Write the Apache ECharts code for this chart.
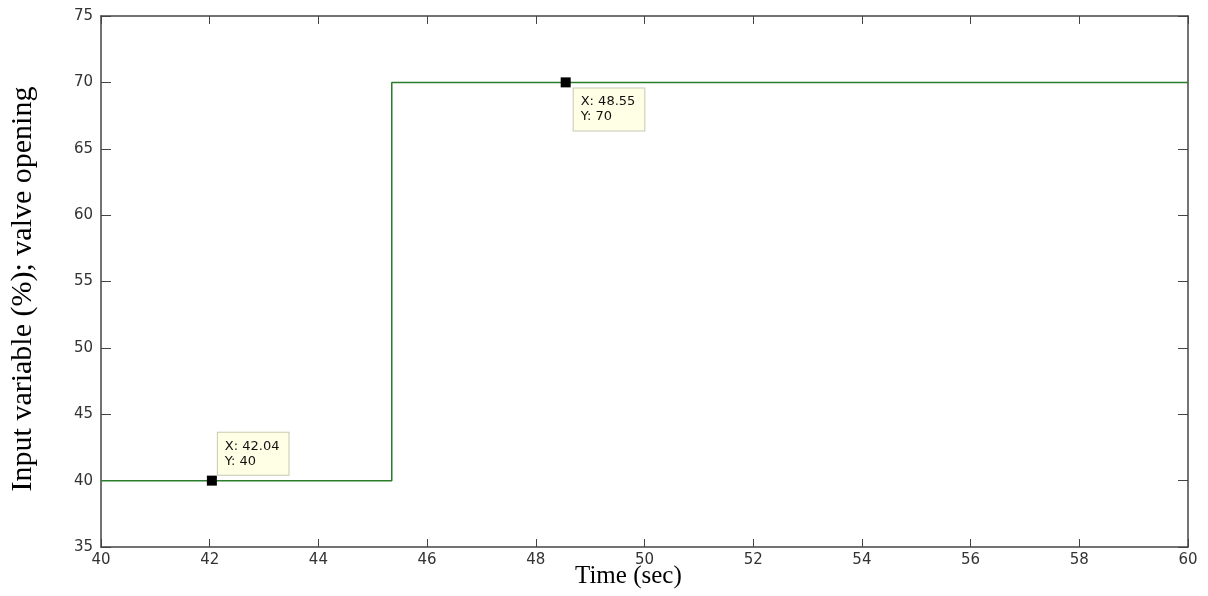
<!DOCTYPE html>
<html><head><meta charset="utf-8">
<script src="https://cdn.jsdelivr.net/npm/echarts@6/dist/echarts.min.js"></script>
<style>html,body{margin:0;padding:0;background:#fff}#c{width:1208px;height:596px}</style>
</head><body><div id="c"></div>
<script>
const times = [40, 45.35, 45.35, 60];
const values = [40, 40, 70, 70];
const tipX = [42.04, 48.55];
const tipY = [40, 70];
const xTitle = 'Time (sec)';
const yTitle = 'Input variable (%); valve opening';

const chart = echarts.init(document.getElementById('c'), null, {renderer: 'canvas'});
const axisLine = {show: true, lineStyle: {color: '#444', width: 1.5}};
const tickFont = {color: '#333', fontFamily: 'DejaVu Sans', fontSize: 15};
const lineData = times.map((t, i) => [t, values[i]]);
const tipOffsets = [[11, -43], [13, 11]];
const tipData = tipX.map((x, i) => ({value: [x, tipY[i]], label: {position: tipOffsets[i]}}));

chart.setOption({
  animation: false,
  grid: {left: 101, right: 20, top: 16, bottom: 49, containLabel: false},
  xAxis: [
    {type: 'value', min: 40, max: 60, interval: 2, position: 'bottom',
     axisLine: axisLine, axisTick: {show: true, inside: true, length: 8, lineStyle: {color: '#444'}},
     axisLabel: Object.assign({margin: 6}, tickFont), splitLine: {show: false}},
    {type: 'value', min: 40, max: 60, interval: 2, position: 'top',
     axisLine: axisLine, axisTick: {show: true, inside: true, length: 8, lineStyle: {color: '#444'}},
     axisLabel: {show: false}, splitLine: {show: false}}
  ],
  yAxis: [
    {type: 'value', min: 35, max: 75, interval: 5, position: 'left',
     axisLine: axisLine, axisTick: {show: true, inside: true, length: 10, lineStyle: {color: '#444'}},
     axisLabel: Object.assign({margin: 8}, tickFont), splitLine: {show: false}},
    {type: 'value', min: 35, max: 75, interval: 5, position: 'right',
     axisLine: axisLine, axisTick: {show: true, inside: true, length: 10, lineStyle: {color: '#444'}},
     axisLabel: {show: false}, splitLine: {show: false}}
  ],
  graphic: [
    {type: 'text', left: 575, top: 564,
     style: {text: xTitle, font: '25px "Liberation Serif"', fill: '#000'}},
    {type: 'text', x: 23, y: 289, rotation: Math.PI / 2,
     style: {text: yTitle, font: '30px "Liberation Serif"', fill: '#000', textAlign: 'center', textVerticalAlign: 'middle'}}
  ],
  series: [
    {type: 'line', data: lineData, symbol: 'none', lineStyle: {color: '#2a7d2a', width: 1.5}, z: 2},
    {type: 'scatter', data: tipData, symbol: 'rect', symbolSize: 10,
     itemStyle: {color: '#000', opacity: 1}, z: 5,
     label: {show: true,
       formatter: function(p){return 'X: ' + p.value[0] + '\nY: ' + p.value[1];},
       fontFamily: 'DejaVu Sans', fontSize: 13, color: '#111', lineHeight: 15,
       backgroundColor: '#ffffe6', borderColor: '#c8c8b4', borderWidth: 1,
       padding: [6, 9, 6, 7], align: 'left', verticalAlign: 'top'}
    }
  ]
});
</script></body></html>
